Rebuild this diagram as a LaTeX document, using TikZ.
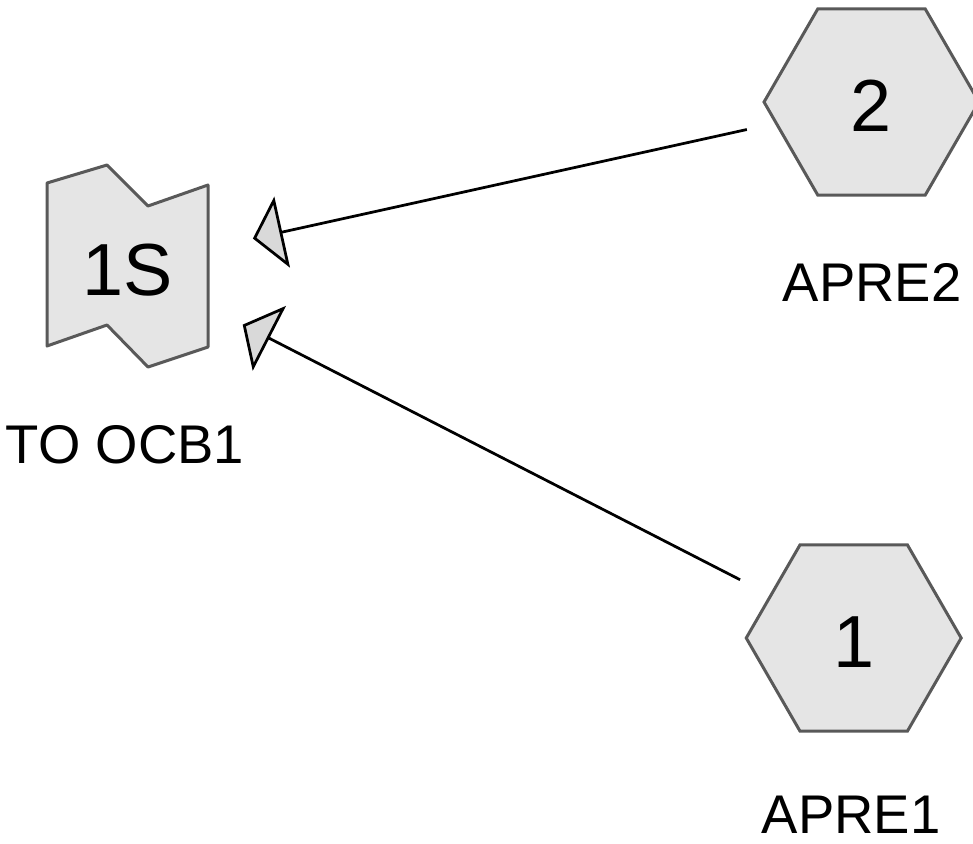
\documentclass[tikz,border=0pt]{standalone}
\usepackage{fontspec}
\setmainfont{Liberation Sans}
\usetikzlibrary{positioning,shapes.geometric,arrows.meta}

\begin{document}
\begin{tikzpicture}[x=0.02cm,y=-0.02cm,
  hexnd/.style={regular polygon,regular polygon sides=6,minimum size=4.3cm,inner sep=0pt,
    draw=black!65,line width=0.06cm,fill=black!10,text height=34pt,text depth=0pt,
    font=\fontsize{42}{50}\selectfont},
  flagnd/.style={rectangle,minimum width=3.2cm,minimum height=3.28cm,inner sep=0pt,outer sep=0pt,
    text height=34pt,text depth=0pt,font=\fontsize{42}{50}\selectfont},
  flagline/.style={draw=black!65,line width=0.06cm,fill=black!10,line join=round},
  lbl/.style={font=\fontsize{31}{37}\selectfont},
  arr/.style={line width=0.055cm,-{Triangle[length=0.6cm,width=1.45cm,fill=black!15]}}]
  \useasboundingbox (0,0) rectangle (973,843);
  \draw[flagline] (47,183) -- (107,165) -- (148,206) -- (208,185) -- (208,347)
    -- (148,367) -- (107,325) -- (47,346) -- cycle;
  \node[flagnd] (flag) at (128,266) {1S};
  \node[hexnd] (apre2) at (871.5,102) {2};
  \node[hexnd] (apre1) at (853.7,638) {1};
  \node[lbl] (lflag) at (125,445) {TO OCB1};
  \node[lbl] (lapre2) at (872,282) {APRE2};
  \node[lbl] (lapre1) at (851,815) {APRE1};
  \draw[arr,shorten <=0.57cm,shorten >=0.92cm] (apre2) -- (flag);
  \draw[arr,shorten <=0.66cm,shorten >=0.78cm] (apre1) -- (flag);
\end{tikzpicture}
\end{document}
